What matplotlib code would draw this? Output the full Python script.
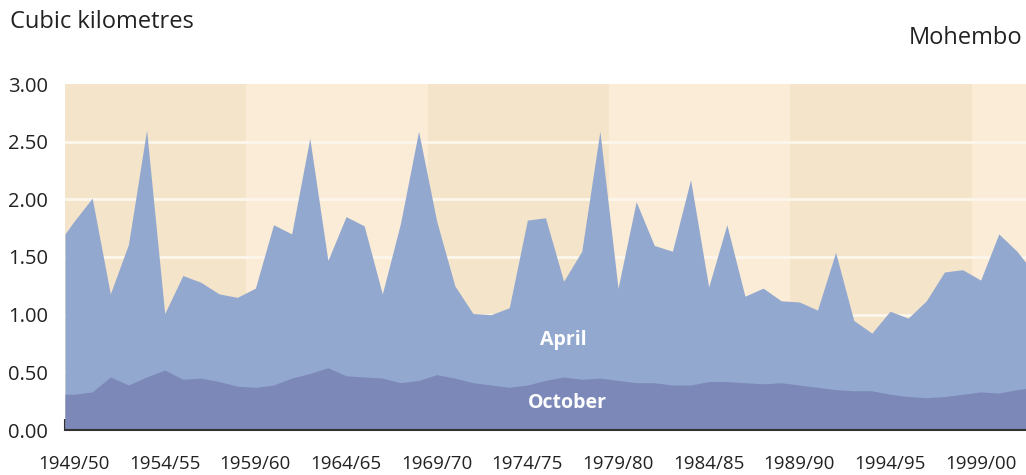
import numpy as np
import matplotlib.pyplot as plt

plt.rcParams['font.family'] = ['Open Sans', 'DejaVu Sans']

# water years 1949/50 .. 2002/03 (cubic km)
years = np.arange(1949, 2003)
april = [1.81, 2.01, 1.18, 1.61, 2.60, 1.01, 1.34, 1.28, 1.18, 1.15,
         1.23, 1.78, 1.70, 2.53, 1.47, 1.85, 1.77, 1.18, 1.79, 2.59,
         1.81, 1.25, 1.01, 1.00, 1.06, 1.82, 1.84, 1.29, 1.55, 2.59,
         1.23, 1.98, 1.60, 1.55, 2.17, 1.24, 1.78, 1.16, 1.23, 1.12,
         1.11, 1.04, 1.54, 0.95, 0.84, 1.03, 0.97, 1.12, 1.37, 1.39,
         1.30, 1.70, 1.55, 1.35]
october = [0.31, 0.33, 0.46, 0.39, 0.46, 0.52, 0.44, 0.45, 0.42, 0.38,
           0.37, 0.39, 0.45, 0.49, 0.54, 0.47, 0.46, 0.45, 0.41, 0.43,
           0.48, 0.45, 0.41, 0.39, 0.37, 0.39, 0.43, 0.46, 0.44, 0.45,
           0.43, 0.41, 0.41, 0.39, 0.39, 0.42, 0.42, 0.41, 0.40, 0.41,
           0.39, 0.37, 0.35, 0.34, 0.34, 0.31, 0.29, 0.28, 0.29, 0.31,
           0.33, 0.32, 0.35, 0.37]
# value at the very left edge of the plot
april_start = 1.70
october_start = 0.31

tick_years = years[::5]
tick_labels = ["%d/%02d" % (y, (y + 1) % 100) for y in tick_years]
yticks = [0, 0.5, 1.0, 1.5, 2.0, 2.5, 3.0]

n = len(years)
x = np.concatenate([[0], np.arange(n) + 0.5])
ya = np.concatenate([[april_start], april])
yo = np.concatenate([[october_start], october])

fig = plt.figure(figsize=(10.26, 4.75), dpi=100)
ax = fig.add_axes([65 / 1026, 1 - 430 / 475, 961 / 1026, 346 / 475])
ax.set_facecolor('#faecd6')

# alternating decade bands
for start in range(0, n, 20):
    ax.axvspan(start, start + 10, color='#f3e4ca', lw=0, zorder=0)

for v in yticks[1:-1]:
    ax.axhline(v, color='#fdf6ec', lw=2, zorder=1)

ax.fill_between(x, 0, ya, color='#93a8cf', lw=0, zorder=2)
ax.fill_between(x, 0, yo, color='#7b88b8', lw=0, zorder=3)

ax.text(27.5, 0.78, "April", color='white', fontsize=14, fontweight='bold',
        ha='center', va='center', zorder=4)
ax.text(27.7, 0.23, "October", color='white', fontsize=14, fontweight='bold',
        ha='center', va='center', zorder=4)

ax.set_xlim(0, 53)
ax.set_ylim(0, 3.0)

ax.set_xticks(tick_years - 1949)
ax.set_xticklabels([])
ax.set_xticks(tick_years - 1949 + 0.5, minor=True)
ax.set_xticklabels(tick_labels, minor=True)
ax.tick_params(axis='x', which='major', direction='in', length=8, width=1.5,
               color='#333333')
ax.tick_params(axis='x', which='minor', length=0, pad=18, labelsize=13.5,
               labelcolor='#222222')

ax.set_yticks(yticks)
ax.set_yticklabels(["%.2f" % v for v in yticks])
ax.tick_params(axis='y', length=0, pad=12, labelsize=14.5, labelcolor='#222222')

for s in ['left', 'right', 'top']:
    ax.spines[s].set_visible(False)
ax.spines['bottom'].set_color('#333333')
ax.spines['bottom'].set_linewidth(1.5)
ax.spines['bottom'].set_zorder(5)

fig.text(10 / 1026, 1 - 22 / 475, "Cubic kilometres", fontsize=17,
         color='#222222', ha='left', va='center')
fig.text(1022 / 1026, 1 - 38 / 475, "Mohembo", fontsize=17,
         color='#222222', ha='right', va='center')

fig.savefig('out.png', dpi=100, facecolor='white')
